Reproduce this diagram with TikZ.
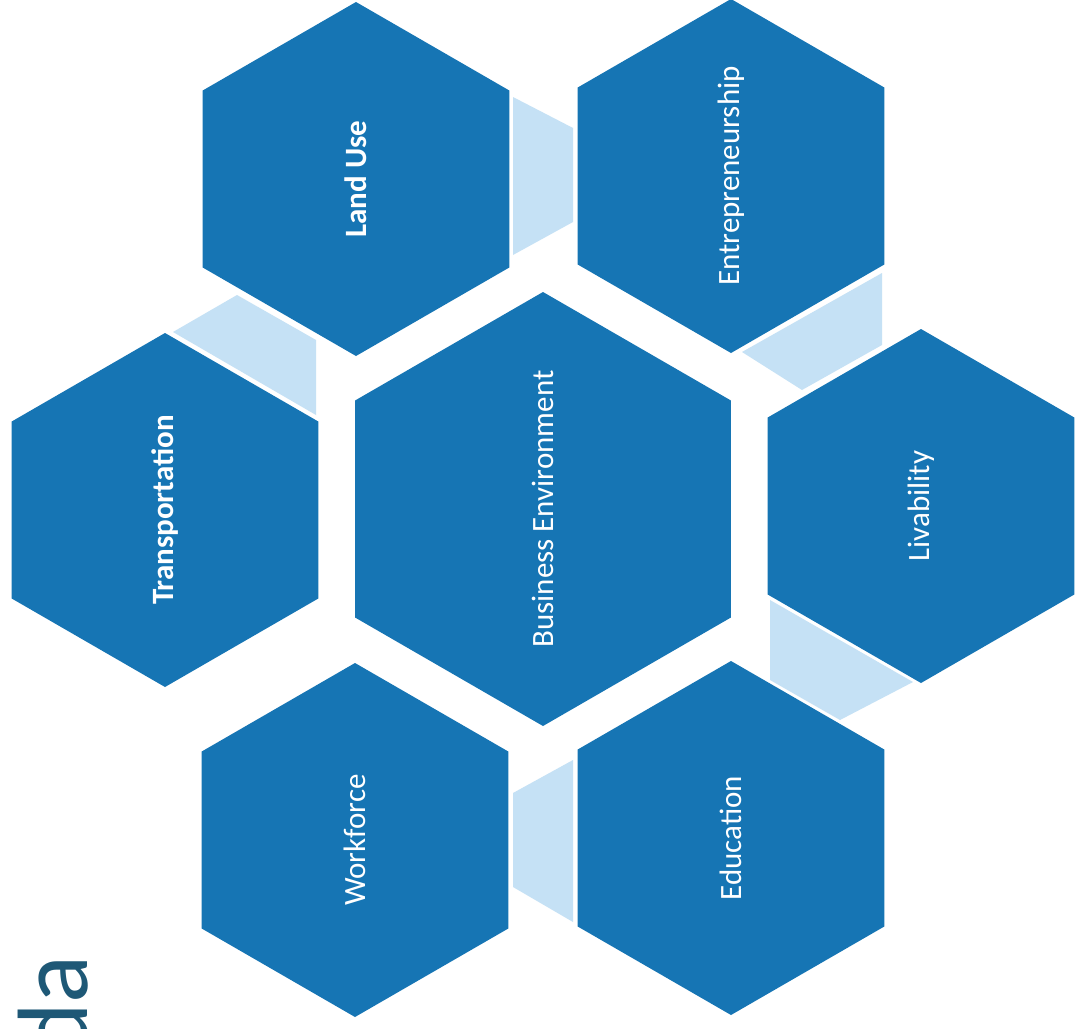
\documentclass[tikz,border=0pt]{standalone}
\usepackage{fontspec}
\setmainfont{Carlito}
\definecolor{hexblue}{RGB}{22,117,180}
\definecolor{linkblue}{RGB}{197,225,245}
\definecolor{titleteal}{RGB}{30,88,118}
\begin{document}
\begin{tikzpicture}[x=1pt,y=-1pt,
  hexfill/.style={fill=hexblue},
  linkfill/.style={fill=linkblue},
  hexlabel/.style={text=white, rotate=90, inner sep=0pt, font=\fontsize{31}{36}\selectfont},
  hexbold/.style={hexlabel, font=\fontsize{31}{36}\selectfont\bfseries}]
\useasboundingbox (0,0) rectangle (1084,1028);
\clip (0,0) rectangle (1084,1028);
\fill[white] (0,0) rectangle (1084,1028);
% light-blue links
\fill[linkfill] (513,97) -- (573,128) -- (573,222) -- (513,255) -- cycle;
\fill[linkfill] (173,332) -- (237,295) -- (316,340) -- (316,415) -- cycle;
\fill[linkfill] (742,352) -- (882,273) -- (882,345) -- (802,390) -- cycle;
\fill[linkfill] (770,600) -- (913,682) -- (840,720) -- (770,680) -- cycle;
\fill[linkfill] (513,793) -- (573,760) -- (573,922) -- (513,887) -- cycle;
% hexagons
\foreach \cx/\cy/\r in {356/179/177, 731/176/177, 165/510/177, 543/509/217, 921/506/177, 355/840/177, 731/838/177}
  \fill[hexfill] (\cx,\cy) +(90:\r) -- +(150:\r) -- +(210:\r) -- +(270:\r) -- +(330:\r) -- +(30:\r) -- cycle;
% labels
\node[hexbold] (landuse) at (356,179) {Land Use};
\node[hexlabel] (entre) at (731,176) {Entrepreneurship};
\node[hexbold] (transport) at (165,510) {Transportation};
\node[hexlabel] (business) at (543,509) {Business Environment};
\node[hexlabel] (livability) at (921,506) {Livability};
\node[hexlabel] (workforce) at (355,840) {Workforce};
\node[hexlabel] (education) at (731,838) {Education};
% cut-off title
\node[anchor=base east, rotate=90, text=titleteal, inner sep=0pt, font=\fontsize{100}{100}\selectfont] (title) at (87,955) {da};
\end{tikzpicture}
\end{document}
